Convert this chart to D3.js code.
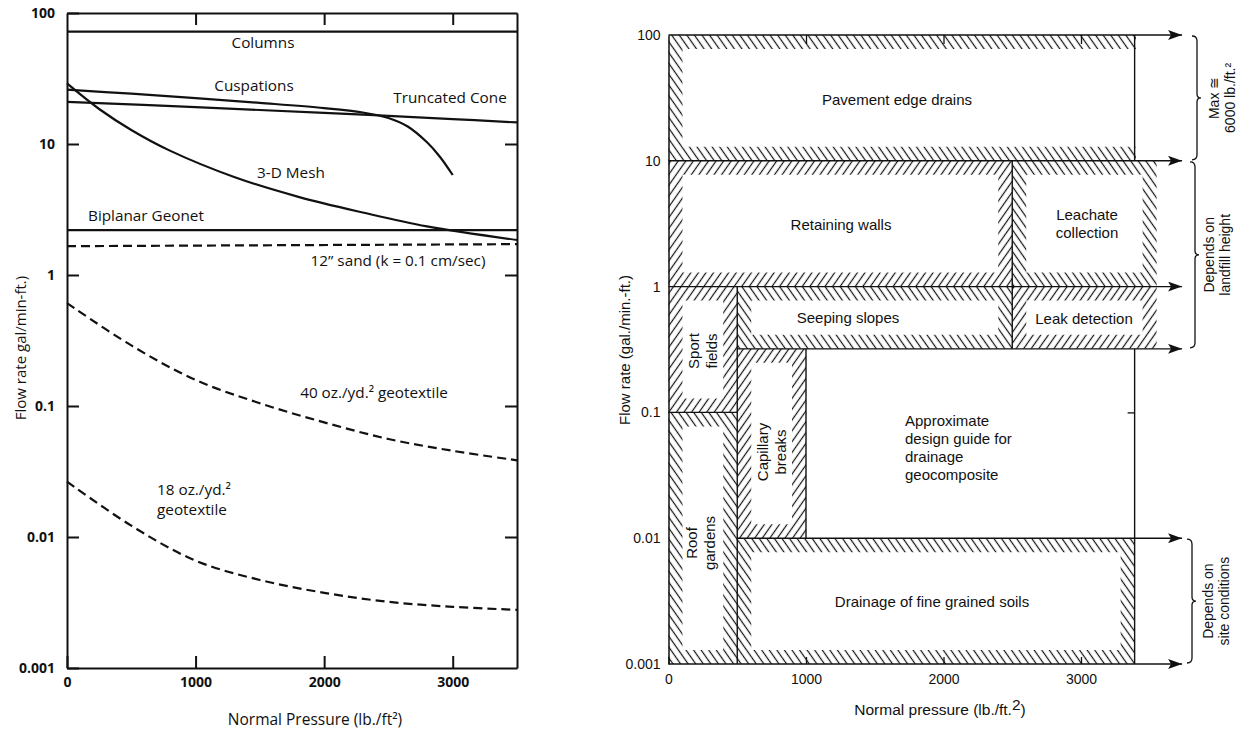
<!DOCTYPE html>
<html>
<head>
<meta charset="utf-8">
<script src="https://cdn.jsdelivr.net/npm/d3@7"></script>
<style>
  body { margin: 0; background: #fff; }
  .left text { font-family: "Open Sans", sans-serif; fill: #111; }
  .right text { font-family: "Liberation Sans", Arial, sans-serif; fill: #111; }
</style>
</head>
<body>
<div id="chart"></div>
<script>
const width = 1238, height = 734;

// ---------- left chart: flow rate of drainage cores ----------
const pressureTicks = [0, 1000, 2000, 3000];
const flowTicks = [0.001, 0.01, 0.1, 1, 10, 100];
const flowTickLabels = ["0.001", "0.01", "0.1", "1", "10", "100"];

// [normal pressure lb/ft2, flow rate gal/min-ft]
const columns = [[0, 72], [3500, 72]];
const cuspations = [[0, 26], [500, 24.2], [1000, 22.4], [1500, 20.6], [2000, 18.8], [2300, 17.4],
  [2500, 15.8], [2650, 13.6], [2800, 10.3], [2900, 8], [3000, 5.8]];
const truncatedCone = [[0, 21], [1000, 19.1], [2000, 17.3], [3000, 15.5], [3500, 14.6]];
const mesh3d = [[0, 29], [250, 18.5], [500, 12.8], [800, 8.9], [1300, 5.6], [1800, 3.95],
  [2300, 3.0], [2800, 2.35], [3500, 1.85]];
const biplanarGeonet = [[0, 2.2], [3500, 2.2]];
const sand12 = [[0, 1.66], [3500, 1.72]];
const geotextile40 = [[0, 0.61], [500, 0.29], [1000, 0.158], [1500, 0.105], [2000, 0.075],
  [2500, 0.056], [3000, 0.0455], [3500, 0.0385]];
const geotextile18 = [[0, 0.0265], [500, 0.0122], [1000, 0.0066], [1500, 0.0047], [2000, 0.00375],
  [2500, 0.0032], [3000, 0.00293], [3500, 0.00278]];

// ---------- right chart: design guide ----------
const guidePressureTicks = [0, 1000, 2000, 3000];
const guideFlowTicks = [0.001, 0.01, 0.1, 1, 10, 100];
const guideFlowLabels = ["0.001", "0.01", "0.1", "1", "10", "100"];

const applications = ["Pavement edge drains", "Retaining walls", "Leachate collection", "Seeping slopes",
  "Leak detection", "Sport fields", "Capillary breaks", "Roof gardens",
  "Drainage of fine grained soils", "Approximate design guide for drainage geocomposite"];
const appPressureMin = [0, 0, 2500, 500, 2500, 0, 500, 0, 500, 1000];
const appPressureMax = [3400, 2500, 3550, 2500, 3550, 500, 1000, 500, 3390, 3390];
const appFlowMin = [10, 1, 1, 0.32, 0.32, 0.1, 0.01, 0.001, 0.001, 0.01];
const appFlowMax = [100, 10, 10, 1, 1, 1, 0.32, 0.1, 0.01, 0.32];

// boundary lines: flow level, from pressure, to pressure (arrowed ones run off the chart)
const arrowFlows = [100, 10, 1, 0.32, 0.01, 0.001];
const arrowFrom = [0, 0, 0, 500, 500, 0];
const arrowTo = 3735;
const dividerPressure = [500, 1000, 2500, 3390, 3390];
const dividerTop = [1, 0.32, 10, 100, 0.32];
const dividerBottom = [0.001, 0.01, 0.32, 10, 0.001];

const bracketTop = [100, 10, 0.01];
const bracketBottom = [10, 0.32, 0.001];
const bracketText = [["Max \u2245", "6000 lb./ft.\u00B2"], ["Depends on", "landfill height"], ["Depends on", "site conditions"]];

const svg = d3.select("#chart").append("svg")
    .attr("width", width)
    .attr("height", height);

// ================= LEFT =================
const left = svg.append("g").attr("class", "left");
const xL = d3.scaleLinear().domain([0, 3500]).range([67, 517]);
const yL = d3.scaleLog().domain([0.001, 100]).range([668, 13]);

function styleAxis(g, w) {
    g.selectAll("path, line").attr("stroke", "#111").attr("stroke-width", w);
}

left.append("g")
    .attr("transform", `translate(${xL(0)},0)`)
    .call(d3.axisLeft(yL).tickValues(flowTicks).tickFormat((d, i) => flowTickLabels[i])
        .tickSize(-12).tickSizeOuter(0).tickPadding(12))
    .call(g => styleAxis(g, 2))
    .selectAll("text").attr("font-size", 14).attr("font-weight", 700);

left.append("g")
    .attr("transform", `translate(${xL(3500)},0)`)
    .call(d3.axisRight(yL).tickValues([0.01, 0.1, 1, 10]).tickFormat("").tickSize(-12).tickSizeOuter(0))
    .call(g => styleAxis(g, 2));

left.append("g")
    .attr("transform", `translate(0,${yL(100)})`)
    .call(d3.axisTop(xL).tickValues([1000, 2000, 3000]).tickFormat("").tickSize(-12).tickSizeOuter(0))
    .call(g => styleAxis(g, 2));

left.append("g")
    .attr("transform", `translate(0,${yL(0.001)})`)
    .call(d3.axisBottom(xL).tickValues(pressureTicks).tickFormat(d3.format("d"))
        .tickSize(-12).tickSizeOuter(0).tickPadding(9))
    .call(g => styleAxis(g, 2))
    .selectAll("text").attr("font-size", 14).attr("font-weight", 700);

const lineL = d3.line().x(d => xL(d[0])).y(d => yL(d[1])).curve(d3.curveCatmullRom.alpha(0.5));
const seriesL = [
    { data: columns, dash: null },
    { data: cuspations, dash: null },
    { data: truncatedCone, dash: null },
    { data: mesh3d, dash: null },
    { data: biplanarGeonet, dash: null },
    { data: sand12, dash: "9,5" },
    { data: geotextile40, dash: "9,5" },
    { data: geotextile18, dash: "9,5" }
];
left.selectAll("path.series")
    .data(seriesL)
    .enter().append("path")
    .attr("class", "series")
    .attr("d", d => lineL(d.data))
    .attr("fill", "none")
    .attr("stroke", "#111")
    .attr("stroke-width", 2.2)
    .attr("stroke-dasharray", d => d.dash);

const labelsL = [
    { t: ["Columns"], x: 263, y: 43, a: "middle" },
    { t: ["Cuspations"], x: 254, y: 86, a: "middle" },
    { t: ["Truncated Cone"], x: 450, y: 98, a: "middle" },
    { t: ["3-D Mesh"], x: 291, y: 173, a: "middle" },
    { t: ["Biplanar Geonet"], x: 88, y: 216, a: "start" },
    { t: ["12\u201D sand (k = 0.1 cm/sec)"], x: 398, y: 261, a: "middle" },
    { t: ["40 oz./yd.\u00B2 geotextile"], x: 374, y: 393, a: "middle" },
    { t: ["18 oz./yd.\u00B2", "geotextile"], x: 157, y: 490, a: "start" }
];
labelsL.forEach(l => {
    const txt = left.append("text")
        .attr("x", l.x).attr("y", l.y)
        .attr("text-anchor", l.a)
        .attr("font-size", 15.3);
    l.t.forEach((s, i) => txt.append("tspan")
        .attr("x", l.x).attr("dy", i === 0 ? "0.35em" : "1.3em").text(s));
});

left.append("text")
    .attr("transform", "translate(21,348) rotate(-90)")
    .attr("text-anchor", "middle").attr("dy", "0.35em")
    .attr("font-size", 15)
    .text("Flow rate gal/min-ft.)");

left.append("text")
    .attr("x", 315).attr("y", 720)
    .attr("text-anchor", "middle").attr("dy", "0.35em")
    .attr("font-size", 15.5)
    .text("Normal Pressure (lb./ft\u00B2)");

// ================= RIGHT =================
const right = svg.append("g").attr("class", "right");
const xR = d3.scaleLinear().domain([0, 3000]).range([668.5, 1081]);
const yR = d3.scaleLog().domain([0.001, 100]).range([664, 35]);

const defs = svg.append("defs");
[["hatchBack", -35], ["hatchFwd", 35]].forEach(([id, angle]) => {
    const p = defs.append("pattern")
        .attr("id", id)
        .attr("patternUnits", "userSpaceOnUse")
        .attr("width", 6.2).attr("height", 6.2)
        .attr("patternTransform", `rotate(${angle})`);
    p.append("line")
        .attr("x1", 3.1).attr("y1", -1).attr("x2", 3.1).attr("y2", 7.2)
        .attr("stroke", "#111").attr("stroke-width", 1.2);
});
defs.append("marker")
    .attr("id", "arrow")
    .attr("viewBox", "0 0 14 10")
    .attr("refX", 14).attr("refY", 5)
    .attr("markerWidth", 14).attr("markerHeight", 10)
    .attr("markerUnits", "userSpaceOnUse")
    .attr("orient", "auto")
    .append("path").attr("d", "M0,0 L14,5 L0,10 L3,5 Z").attr("fill", "#111");

// hatch style per application box: direction + hatched sides
const hatchDir = ["hatchBack", "hatchFwd", "hatchBack", "hatchBack", "hatchFwd", "hatchFwd", "hatchFwd", "hatchBack", "hatchBack", null];
const hatchSides = ["TLB", "TLRB", "TLRB", "TLRB", "TLRB", "TLRB", "TLRB", "TLRB", "TLRB", ""];
const band = 14;

function bandPath(x0, y0, x1, y1, sides) {
    const ix0 = x0 + (sides.includes("L") ? band : 0);
    const ix1 = x1 - (sides.includes("R") ? band : 0);
    const iy0 = y0 + (sides.includes("T") ? band : 0);
    const iy1 = y1 - (sides.includes("B") ? band : 0);
    return `M${x0},${y0}H${x1}V${y1}H${x0}Z M${ix0},${iy0}V${iy1}H${ix1}V${iy0}Z`;
}

const boxes = applications.map((name, i) => ({
    name, i,
    x0: xR(appPressureMin[i]), x1: xR(appPressureMax[i]),
    y0: yR(appFlowMax[i]), y1: yR(appFlowMin[i])
}));

right.selectAll("path.hatch")
    .data(boxes.filter(b => hatchDir[b.i]))
    .enter().append("path")
    .attr("class", "hatch")
    .attr("d", b => bandPath(b.x0, b.y0, b.x1, b.y1, hatchSides[b.i]))
    .attr("fill-rule", "evenodd")
    .attr("fill", b => `url(#${hatchDir[b.i]})`);

// boundary lines
right.selectAll("line.flowline")
    .data(arrowFlows)
    .enter().append("line")
    .attr("class", "flowline")
    .attr("x1", (d, i) => xR(arrowFrom[i])).attr("x2", xR(arrowTo))
    .attr("y1", d => yR(d)).attr("y2", d => yR(d))
    .attr("stroke", "#111").attr("stroke-width", 1.4)
    .attr("marker-end", "url(#arrow)");

right.append("line")
    .attr("x1", xR(0)).attr("x2", xR(500))
    .attr("y1", yR(0.1)).attr("y2", yR(0.1))
    .attr("stroke", "#111").attr("stroke-width", 1.4);

right.selectAll("line.divider")
    .data(dividerPressure)
    .enter().append("line")
    .attr("class", "divider")
    .attr("x1", d => xR(d)).attr("x2", d => xR(d))
    .attr("y1", (d, i) => yR(dividerTop[i])).attr("y2", (d, i) => yR(dividerBottom[i]))
    .attr("stroke", "#111").attr("stroke-width", 1.4);

// axes
right.append("g")
    .attr("transform", `translate(${xR(0)},0)`)
    .call(d3.axisLeft(yR).tickValues(guideFlowTicks).tickFormat((d, i) => guideFlowLabels[i])
        .tickSize(0).tickSizeOuter(0).tickPadding(8))
    .call(g => styleAxis(g, 1.5))
    .selectAll("text").attr("font-size", 14);

right.append("g")
    .attr("transform", `translate(0,${yR(0.001)})`)
    .call(d3.axisBottom(xR).tickValues(guidePressureTicks).tickFormat(d3.format("d"))
        .tickSize(-7).tickSizeOuter(0).tickPadding(10))
    .call(g => g.select(".domain").remove())
    .call(g => styleAxis(g, 1.3))
    .selectAll("text").attr("font-size", 14);

right.append("g")
    .attr("transform", `translate(0,${yR(100)})`)
    .call(d3.axisBottom(xR).tickValues([1000, 2000, 3000]).tickFormat("").tickSize(9))
    .call(g => g.select(".domain").remove())
    .call(g => styleAxis(g, 1.3));

right.append("g")
    .attr("transform", `translate(${xR(3390)},0)`)
    .call(d3.axisLeft(yR).tickValues([0.1]).tickFormat("").tickSize(7))
    .call(g => g.select(".domain").remove())
    .call(g => styleAxis(g, 1.3));

// box labels
const labelPos = [
    { x: 897, y: 100, rot: false, lines: ["Pavement edge drains"] },
    { x: 841, y: 225, rot: false, lines: ["Retaining walls"] },
    { x: 1087, y: 224, rot: false, lines: ["Leachate", "collection"] },
    { x: 848, y: 318, rot: false, lines: ["Seeping slopes"] },
    { x: 1084, y: 319, rot: false, lines: ["Leak detection"] },
    { x: 703, y: 351, rot: true, lines: ["Sport", "fields"] },
    { x: 772, y: 452, rot: true, lines: ["Capillary", "breaks"] },
    { x: 701, y: 543, rot: true, lines: ["Roof", "gardens"] },
    { x: 932, y: 602, rot: false, lines: ["Drainage of fine grained soils"] },
    { x: 905, y: 448, rot: false, lines: ["Approximate", "design guide for", "drainage", "geocomposite"], anchor: "start" }
];
const lh = 1.2;
labelPos.forEach(p => {
    const n = p.lines.length;
    const txt = right.append("text")
        .attr("font-size", 15)
        .attr("text-anchor", p.anchor || "middle")
        .attr("transform", p.rot ? `translate(${p.x},${p.y}) rotate(-90)` : `translate(${p.x},${p.y})`);
    p.lines.forEach((s, i) => txt.append("tspan")
        .attr("x", 0)
        .attr("dy", i === 0 ? `${0.35 - (n - 1) * lh / 2}em` : `${lh}em`)
        .text(s));
});

// brackets on the right
const bracketX = [1197, 1195, 1192];
const bracketTextX = [1222, 1217, 1216];
bracketTop.forEach((top, i) => {
    const bx = bracketX[i], y1 = yR(top) + 1, y2 = yR(bracketBottom[i]) - 1, ym = (y1 + y2) / 2;
    right.append("path")
        .attr("d", `M${bx - 5},${y1} Q${bx},${y1} ${bx},${y1 + 5} L${bx},${ym - 4} Q${bx},${ym} ${bx + 4},${ym} ` +
                   `Q${bx},${ym} ${bx},${ym + 4} L${bx},${y2 - 5} Q${bx},${y2} ${bx - 5},${y2}`)
        .attr("fill", "none").attr("stroke", "#111").attr("stroke-width", 1.3);
    const txt = right.append("text")
        .attr("font-size", 14)
        .attr("text-anchor", "middle")
        .attr("transform", `translate(${bracketTextX[i]},${ym}) rotate(-90)`);
    bracketText[i].forEach((s, j) => txt.append("tspan")
        .attr("x", 0).attr("dy", j === 0 ? `${0.35 - 0.6}em` : "1.2em").text(s));
});

right.append("text")
    .attr("transform", "translate(625,350) rotate(-90)")
    .attr("text-anchor", "middle").attr("dy", "0.35em")
    .attr("font-size", 15)
    .text("Flow rate (gal./min.-ft.)");

const xTitle = right.append("text")
    .attr("x", 940).attr("y", 710)
    .attr("text-anchor", "middle").attr("dy", "0.35em")
    .attr("font-size", 15.5);
xTitle.append("tspan").text("Normal pressure (lb./ft.");
xTitle.append("tspan").attr("dy", "-0.35em").text("2");
xTitle.append("tspan").attr("dy", "0.35em").text(")");
</script>
</body>
</html>
